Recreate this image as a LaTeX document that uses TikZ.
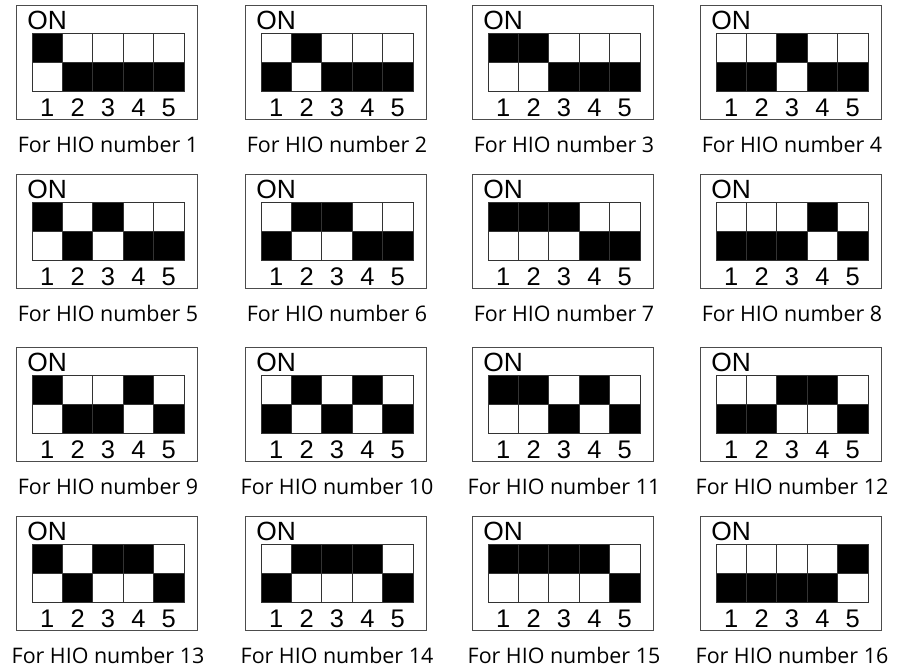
\documentclass[tikz,border=0pt]{standalone}
\usepackage{fontspec}
\newfontfamily\arialfont{Liberation Sans}
\newfontfamily\labelfont{Open Sans}
\usetikzlibrary{positioning}
\begin{document}
\begin{tikzpicture}[x=0.02cm,y=-0.02cm,
  frame/.style={draw=black!70,line width=0.7pt,minimum width=3.62cm,
    minimum height=2.28cm,inner sep=0pt,anchor=north west},
  onbit/.style={fill=black,draw=black!80,line width=0.5pt},
  offbit/.style={fill=white,draw=black!80,line width=0.5pt},
  tag/.style={font=\arialfont\fontsize{15}{17}\selectfont,inner sep=0pt},
  digit/.style={font=\arialfont\fontsize{14.5}{17}\selectfont,inner sep=0pt},
  caption/.style={font=\labelfont\fontsize{12.2}{14}\selectfont,inner sep=0pt}
]
\useasboundingbox (0,0) rectangle (900,667);
\foreach \n in {1,...,16}{
  \pgfmathtruncatemacro\col{mod(\n-1,4)}
  \pgfmathtruncatemacro\row{floor((\n-1)/4)}
  \pgfmathsetmacro\bx{{16,245,472,700}[\col]}
  \pgfmathsetmacro\by{{5,174,347,516}[\row]}
  \node[frame] (box\n) at (\bx,\by) {};
  \node[tag,anchor=west] (on\n) at (\bx+11,\by+15) {ON};
  \foreach \k in {1,...,5}{
    \pgfmathtruncatemacro\bit{mod(floor(\n/2^(\k-1)),2)}
    \pgfmathsetmacro\cx{\bx+16+(\k-1)*30.4}
    \ifnum\bit=1
      \draw[onbit] (\cx,\by+28) rectangle ++(30.4,29);
      \draw[offbit] (\cx,\by+57) rectangle ++(30.4,29);
    \else
      \draw[offbit] (\cx,\by+28) rectangle ++(30.4,29);
      \draw[onbit] (\cx,\by+57) rectangle ++(30.4,29);
    \fi
    \node[digit] (d\n-\k) at (\cx+15.2,\by+103) {\k};
  }
  \node[caption] (cap\n) at (\bx+92,\by+139) {For HIO number \n};
}
\end{tikzpicture}
\end{document}
